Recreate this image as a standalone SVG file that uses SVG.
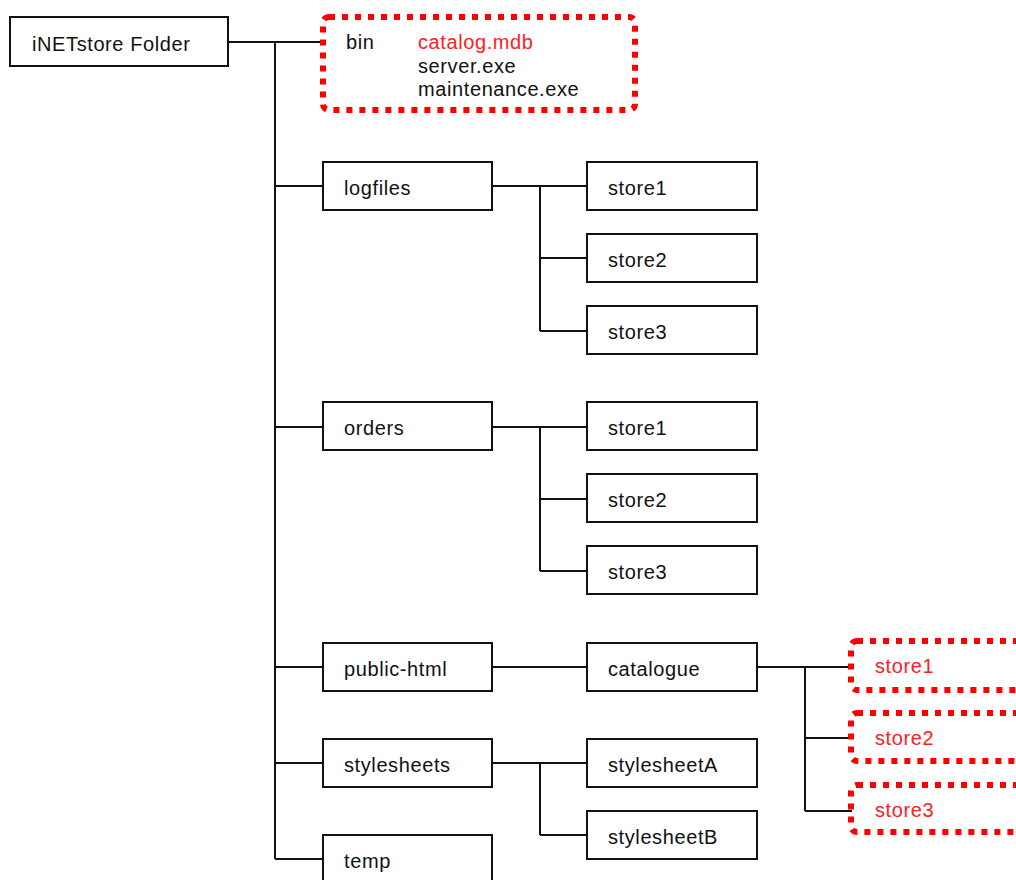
<svg xmlns="http://www.w3.org/2000/svg" width="1016" height="880" viewBox="0 0 1016 880">
<style>
.box{fill:#fff;stroke:#111;stroke-width:2}
.dot{fill:none;stroke:#ff0000;stroke-width:6;stroke-dasharray:6 7}
.t{font-family:"Liberation Sans",Arial,sans-serif;font-size:20px;letter-spacing:0.6px;fill:#111}
.r{fill:#ff2020}
.c{fill:none;stroke:#111;stroke-width:2}
</style>
<rect width="1016" height="880" fill="#fff"/>
<g id="connectors">
<path class="c" d="M228,42H323 M275,42V859 M275,186H323 M275,427H323 M275,667H323 M275,763H323 M275,859H323"/>
<path class="c" d="M492,186H587 M540,186V331 M540,258H587 M540,331H587"/>
<path class="c" d="M492,427H587 M540,427V571 M540,499H587 M540,571H587"/>
<path class="c" d="M492,667H587"/>
<path class="c" d="M757,667H852 M805,667V811 M805,738H852 M805,811H852"/>
<path class="c" d="M492,763H587 M540,763V835 M540,835H587"/>
</g>
<g id="root"><rect class="box" x="10" y="17" width="218" height="49"/><text class="t" x="32" y="51">iNETstore Folder</text></g>
<g id="bin">
<rect class="dot" x="323" y="17" width="312" height="93" rx="6"/>
<text class="t" x="346" y="49">bin</text>
<text class="t r" x="418" y="49">catalog.mdb</text>
<text class="t" x="418" y="73">server.exe</text>
<text class="t" x="418" y="96">maintenance.exe</text>
</g>
<g id="logfiles"><rect class="box" x="323" y="162" width="169" height="48"/><text class="t" x="344" y="195">logfiles</text></g>
<g id="logfiles-store1"><rect class="box" x="587" y="162" width="170" height="48"/><text class="t" x="608" y="195">store1</text></g>
<g id="logfiles-store2"><rect class="box" x="587" y="234" width="170" height="48"/><text class="t" x="608" y="267">store2</text></g>
<g id="logfiles-store3"><rect class="box" x="587" y="306" width="170" height="48"/><text class="t" x="608" y="339">store3</text></g>
<g id="orders"><rect class="box" x="323" y="402" width="169" height="48"/><text class="t" x="344" y="435">orders</text></g>
<g id="orders-store1"><rect class="box" x="587" y="402" width="170" height="48"/><text class="t" x="608" y="435">store1</text></g>
<g id="orders-store2"><rect class="box" x="587" y="474" width="170" height="48"/><text class="t" x="608" y="507">store2</text></g>
<g id="orders-store3"><rect class="box" x="587" y="546" width="170" height="48"/><text class="t" x="608" y="579">store3</text></g>
<g id="public-html"><rect class="box" x="323" y="643" width="169" height="48"/><text class="t" x="344" y="676">public-html</text></g>
<g id="catalogue"><rect class="box" x="587" y="643" width="170" height="48"/><text class="t" x="608" y="676">catalogue</text></g>
<g id="cat-store1"><rect class="dot" x="851" y="641" width="200" height="49" rx="6"/><text class="t r" x="875" y="673">store1</text></g>
<g id="cat-store2"><rect class="dot" x="851" y="713" width="200" height="48" rx="6"/><text class="t r" x="875" y="745">store2</text></g>
<g id="cat-store3"><rect class="dot" x="851" y="785" width="200" height="47" rx="6"/><text class="t r" x="875" y="817">store3</text></g>
<g id="stylesheets"><rect class="box" x="323" y="739" width="169" height="48"/><text class="t" x="344" y="772">stylesheets</text></g>
<g id="stylesheetA"><rect class="box" x="587" y="739" width="170" height="48"/><text class="t" x="608" y="772">stylesheetA</text></g>
<g id="stylesheetB"><rect class="box" x="587" y="811" width="170" height="48"/><text class="t" x="608" y="844">stylesheetB</text></g>
<g id="temp"><rect class="box" x="323" y="835" width="169" height="60"/><text class="t" x="344" y="868">temp</text></g>
</svg>
